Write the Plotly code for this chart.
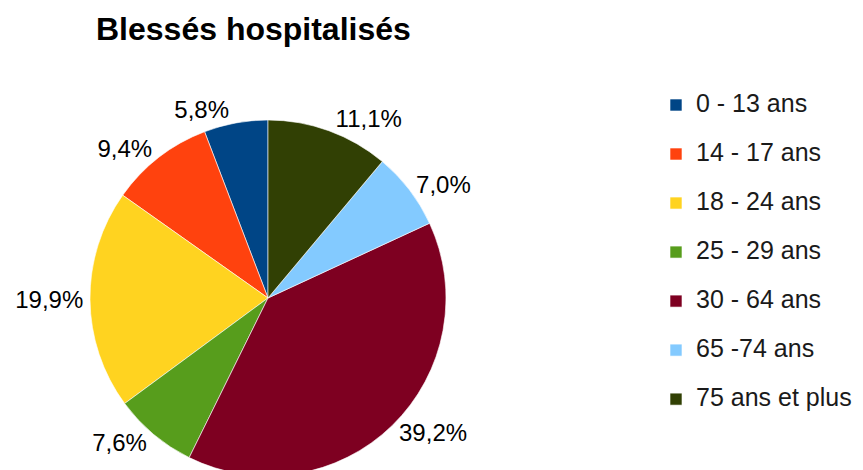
import plotly.graph_objects as go

# Blessés hospitalisés par tranche d'âge (%)
age_groups = ["0 - 13 ans", "14 - 17 ans", "18 - 24 ans", "25 - 29 ans",
              "30 - 64 ans", "65 -74 ans", "75 ans et plus"]
shares = [5.8, 9.4, 19.9, 7.6, 39.2, 7.0, 11.1]
colors = ["#004586", "#ff420e", "#ffd320", "#579d1c", "#7e0021", "#83caff", "#314004"]

W, H = 863, 470
pct_text = [f"{v:.1f}%".replace(".", ",") for v in shares]
# second blank line makes the legend rows taller, like the original
legend_names = [f"<span style='font-size:25px'>{a}</span><br> " for a in age_groups]

# plotly puts the first slice right of 12 o'clock when going counterclockwise,
# so turn the pie back by the first slice's share
start = -shares[0] / sum(shares) * 360

fig = go.Figure(go.Pie(
    labels=legend_names,
    values=shares,
    text=pct_text,
    texttemplate="%{text}",
    textposition="outside",
    textfont=dict(size=24, color="#000000", family="Liberation Sans"),
    marker=dict(colors=colors, line=dict(color="#ffffff", width=0.6)),
    sort=False,
    direction="counterclockwise",
    rotation=start,
    hoverinfo="skip",
    domain=dict(x=[82 / W, 438 / W], y=[2 / H, 358 / H]),
))

fig.update_layout(
    width=W, height=H,
    margin=dict(l=0, r=0, t=0, b=0, autoexpand=False),
    paper_bgcolor="white",
    font=dict(family="Liberation Sans", color="#000000"),
    title=dict(text="<b>Blessés hospitalisés</b>", x=88 / W, xanchor="left",
               y=1 - 21 / H, yanchor="middle",
               font=dict(size=32, color="#000000")),
    legend=dict(x=648 / W, xanchor="left", y=1 - 79 / H, yanchor="top",
                font=dict(size=17.7, color="#1a1a1a"), valign="top",
                bgcolor="rgba(0,0,0,0)"),
)

fig.write_html("out.html")
